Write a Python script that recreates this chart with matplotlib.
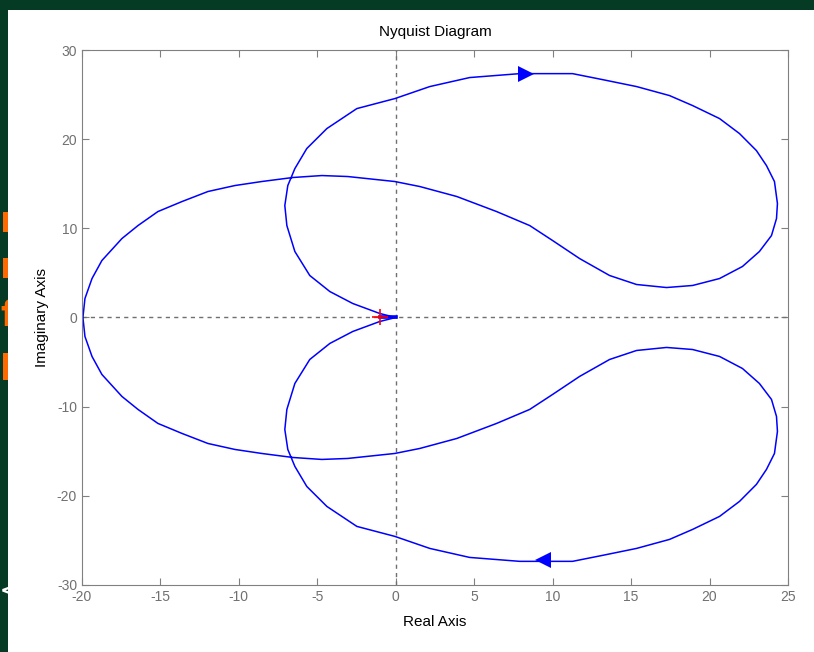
import numpy as np
import matplotlib.pyplot as plt
from matplotlib.patches import Rectangle

plt.rcParams['font.family'] = ['Liberation Sans Narrow', 'Liberation Sans', 'DejaVu Sans']
plt.rcParams['axes.unicode_minus'] = False

# Upper (positive imaginary) branch of the Nyquist curve,
# ordered from the origin towards the left crossing at -20
re_up = [0.0, -1.02, -2.74, -4.20, -5.48, -6.43, -6.94, -7.07, -6.88, -6.43, -5.67,
         -4.39, -2.48, -0.06, 2.17, 4.71, 7.90, 11.27, 13.18, 15.35, 17.45, 18.92,
         20.64, 21.91, 22.99, 23.63, 24.14, 24.33, 24.27, 23.95, 23.18, 22.10, 20.64,
         18.92, 17.26, 15.35, 13.63, 11.72, 10.0, 8.54, 6.43, 3.89, 1.53, -0.06, -3.06,
         -4.71, -6.56, -8.54, -10.25, -11.97, -13.63, -15.16, -16.43, -17.45, -18.73,
         -19.36, -19.81, -19.94]
im_up = [0.0, 0.45, 1.57, 2.91, 4.71, 7.40, 10.31, 12.56, 14.80, 16.70, 18.95,
         21.19, 23.43, 24.55, 25.90, 26.91, 27.35, 27.35, 26.68, 25.90, 24.89, 23.77,
         22.31, 20.63, 18.72, 17.04, 15.25, 12.78, 11.10, 9.19, 7.40, 5.72, 4.37,
         3.59, 3.36, 3.70, 4.71, 6.61, 8.63, 10.31, 11.88, 13.57, 14.69, 15.25, 15.81,
         15.92, 15.70, 15.25, 14.80, 14.13, 13.00, 11.88, 10.31, 8.86, 6.39,
         4.37, 2.13, 0.0]

# direction arrows (real, imag, direction)
arrow_re = [8.3, 9.4]
arrow_im = [27.35, -27.2]
arrow_mk = ['>', '<']

# bunched high-frequency tail on the real axis
tail_re = [-1.0, 0.0]
tail_im = [0.0, 0.0]

# letters of the slide text hidden behind the plot
side_chars = ['m', 'n', 'f', 'l']
side_y = [0.66, 0.589, 0.515, 0.433]

re_up = np.array(re_up)
im_up = np.array(im_up)

fig = plt.figure(figsize=(8.14, 6.52), dpi=100, facecolor='#053a24')

for ch, yy in zip(side_chars, side_y):
    fig.text(0.0, yy, ch, color='#ff6a00', fontsize=26, fontweight='bold',
             family='DejaVu Sans', ha='left', va='center', zorder=-3)
fig.text(0.0, 0.093, '<', color='white', fontsize=15, fontweight='bold',
         family='DejaVu Sans', ha='left', va='center', zorder=-3)
fig.patches.append(Rectangle((0.0098, 0.0), 1.0, 0.984, transform=fig.transFigure,
                             facecolor='white', edgecolor='none', zorder=-1))

ax = fig.add_axes([0.1007, 0.1028, 0.8673, 0.8205])

ax.axhline(0, color='#707070', ls=(0, (3, 3)), lw=1)
ax.axvline(0, color='#707070', ls=(0, (3, 3)), lw=1)

ax.plot(re_up, im_up, color='blue', lw=1.1)
ax.plot(re_up, -im_up, color='blue', lw=1.1)
ax.plot(tail_re, tail_im, color='blue', lw=2.6)
ax.plot([-1], [0], marker='+', color='red', ms=11, mew=1.2)

for x, y, m in zip(arrow_re, arrow_im, arrow_mk):
    ax.plot([x], [y], marker=m, color='blue', ms=11, mew=0)

ax.set_xlim(-20, 25)
ax.set_ylim(-30, 30)
ax.set_xticks(np.arange(-20, 26, 5))
ax.set_yticks(np.arange(-30, 31, 10))

for s in ax.spines.values():
    s.set_color('#808080')
ax.tick_params(direction='in', top=True, right=True, colors='#808080',
               labelcolor='#707070', labelsize=10, length=5)

ax.set_title('Nyquist Diagram', fontsize=11, pad=10)
ax.set_xlabel('Real Axis', fontsize=11, labelpad=8)
ax.set_ylabel('Imaginary Axis', fontsize=11, labelpad=6)

plt.savefig('out.png', dpi=100, facecolor=fig.get_facecolor())
